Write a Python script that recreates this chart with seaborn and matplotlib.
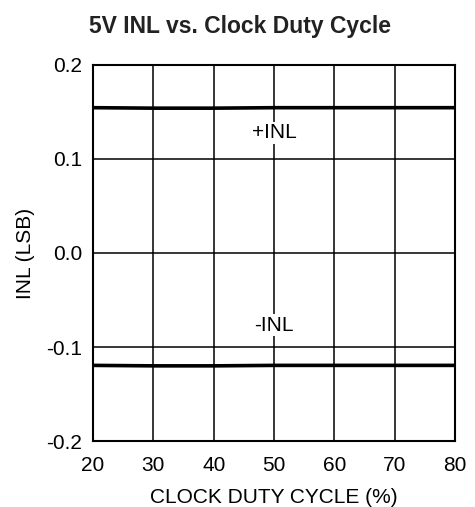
import numpy as np
import pandas as pd
import matplotlib
matplotlib.use('Agg')
import matplotlib.pyplot as plt
import seaborn as sns

# Data
duty_cycle = [20, 30, 40, 50, 60, 70, 80]
inl_pos = [0.1545, 0.1540, 0.1540, 0.1545, 0.1545, 0.1545, 0.1545]
inl_neg = [-0.1195, -0.1200, -0.1200, -0.1195, -0.1195, -0.1195, -0.1195]

df = pd.DataFrame({
    'duty': duty_cycle * 2,
    'inl': inl_pos + inl_neg,
    'series': ['+INL'] * len(duty_cycle) + ['-INL'] * len(duty_cycle),
})

sns.set_style('white')
plt.rcParams['font.family'] = ['Liberation Sans', 'DejaVu Sans']
plt.rcParams['text.color'] = 'black'
plt.rcParams['axes.labelcolor'] = 'black'

fig = plt.figure(figsize=(4.75, 5.07), dpi=100)
ax = fig.add_axes([0.196, 0.130, 0.762, 0.742])

sns.lineplot(data=df, x='duty', y='inl', units='series', estimator=None,
             color='black', linewidth=2.6, ax=ax, legend=False)

ax.set_xlim(20, 80)
ax.set_ylim(-0.2, 0.2)
ax.set_xticks(np.arange(20, 81, 10))
ax.set_yticks([-0.2, -0.1, 0.0, 0.1, 0.2])
ax.set_yticklabels(['-0.2', '-0.1', '0.0', '0.1', '0.2'])
ax.grid(True, color='black', linewidth=1.1)
ax.tick_params(length=0, labelsize=15, colors='black')
ax.tick_params(axis='y', pad=8)
ax.tick_params(axis='x', pad=11)
for s in ax.spines.values():
    s.set_color('black')
    s.set_linewidth(1.5)

ax.set_xlabel('CLOCK DUTY CYCLE (%)', fontsize=15)
ax.set_ylabel('INL (LSB)', fontsize=15)
ax.xaxis.set_label_coords(0.5, -0.149)
ax.xaxis.label.set_verticalalignment('center')
ax.yaxis.set_label_coords(-0.188, 0.5)
ax.yaxis.label.set_verticalalignment('center')

fig.text(0.505, 1 - 27 / 507, '5V INL vs. Clock Duty Cycle', fontsize=16.5,
         fontweight='bold', ha='center', va='center', color='#222222')

ax.text(50, 0.1277, '+INL', ha='center', va='center', fontsize=15,
        bbox=dict(facecolor='white', edgecolor='none', pad=1))
ax.text(50, -0.0766, '-INL', ha='center', va='center', fontsize=15,
        bbox=dict(facecolor='white', edgecolor='none', pad=1))

fig.savefig('out.png', dpi=100)
